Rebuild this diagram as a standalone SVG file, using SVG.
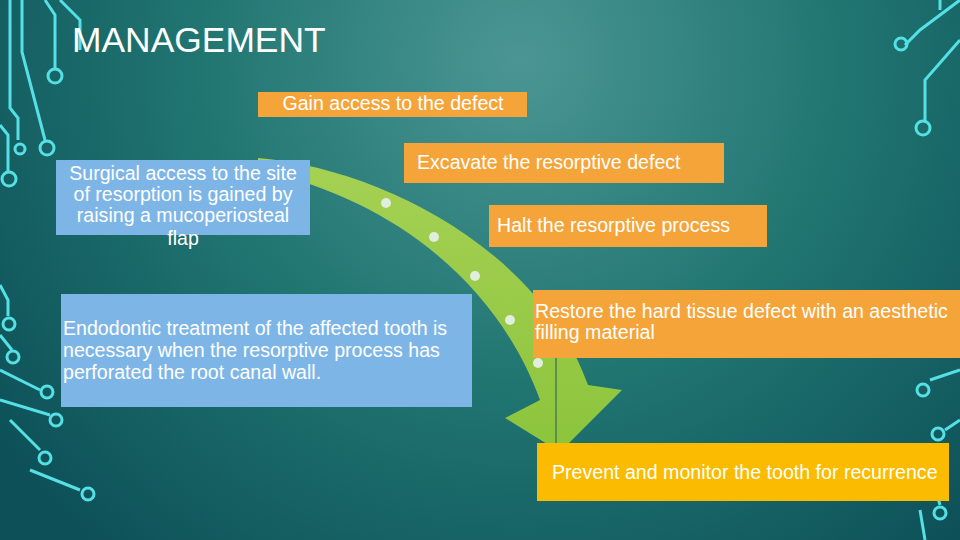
<svg xmlns="http://www.w3.org/2000/svg" width="960" height="540" viewBox="0 0 960 540">
<defs>
<radialGradient id="bg" cx="520" cy="60" r="650" gradientUnits="userSpaceOnUse">
<stop offset="0" stop-color="#4b9694"/><stop offset="0.5" stop-color="#207571"/><stop offset="1" stop-color="#0d5058"/>
</radialGradient>
<linearGradient id="arr" x1="0" y1="0" x2="0" y2="1"><stop offset="0" stop-color="#a6d154"/><stop offset="1" stop-color="#8cc43c"/></linearGradient>
<style>
.c{fill:none;stroke:#55e0e6;stroke-width:3}
.t{font-family:"Liberation Sans",Arial,sans-serif;fill:#fff;font-size:19.6px}
.o{fill:#f5a43a}.b{fill:#7db6e6}
.d{fill:#dfeedd}
</style>
</defs>
<rect width="960" height="540" fill="url(#bg)"/>
<g id="circuits">
<path class="c" d="M45 0 L55 15 L55 68"/><circle class="c" cx="55" cy="76" r="7"/>
<path class="c" d="M22 0 L22 52 L45 140"/><circle class="c" cx="47" cy="148" r="7"/>
<path class="c" d="M10 0 L10 108 L18 118 L18 140"/><circle class="c" cx="20" cy="149" r="5"/>
<path class="c" d="M0 125 L8 135 L8 171"/><circle class="c" cx="9" cy="179" r="7"/>
<path class="c" d="M0 285 L8 300 L8 316"/><circle class="c" cx="9" cy="324" r="6"/>
<path class="c" d="M0 335 L12 350"/><circle class="c" cx="13" cy="357" r="6"/>
<path class="c" d="M0 370 L40 390"/><circle class="c" cx="47" cy="392" r="6"/>
<path class="c" d="M0 400 L50 415"/><circle class="c" cx="56" cy="420" r="6"/>
<path class="c" d="M10 420 L40 450"/><circle class="c" cx="45" cy="458" r="6"/>
<path class="c" d="M30 470 L80 490"/><circle class="c" cx="88" cy="494" r="6"/>
<path class="c" d="M60 0 L80 20 L80 50"/>
<path class="c" d="M960 0 L920 30 L905 45"/><circle class="c" cx="901" cy="44" r="6"/>
<path class="c" d="M960 40 L925 80 L925 120"/><circle class="c" cx="923" cy="128" r="7"/>
<path class="c" d="M940 0 L940 10"/>
<path class="c" d="M960 370 L930 380"/><circle class="c" cx="923" cy="390" r="6"/>
<path class="c" d="M960 420 L945 430"/><circle class="c" cx="938" cy="434" r="6"/>
<path class="c" d="M930 470 L940 505"/><circle class="c" cx="940" cy="513" r="6"/>
<path class="c" d="M920 510 L925 540"/>
</g>
<text x="72" y="52" font-family="Liberation Sans,Arial,sans-serif" font-size="35.4" fill="#fff">MANAGEMENT</text>
<g id="connectors">
<path fill="url(#arr)" d="M258 158 C380 168 540 250 588 385 L622 390 L560 452 L505 418 L540 400 C500 290 400 200 258 170 Z"/>
<path d="M556 330 L556 445" stroke="#3d6a55" stroke-width="1.2"/>
<circle class="d" cx="386" cy="203" r="5"/><circle class="d" cx="434" cy="237" r="5"/>
<circle class="d" cx="475" cy="276" r="5"/><circle class="d" cx="510" cy="320" r="5"/>
<circle class="d" cx="538" cy="363" r="5"/>
</g>
<g id="gain"><rect class="o" x="258" y="92" width="269" height="25"/><text class="t" x="393" y="110" font-size="18.8" text-anchor="middle">Gain access to the defect</text></g>
<g id="surgical"><rect class="b" x="56" y="160" width="254" height="75"/>
<text class="t" text-anchor="middle"><tspan x="183" y="180">Surgical access to the site</tspan><tspan x="183" y="201">of resorption is gained by</tspan><tspan x="183" y="222">raising a mucoperiosteal</tspan><tspan x="183" y="245">flap</tspan></text></g>
<g id="excavate"><rect class="o" x="404" y="143" width="320" height="40"/><text class="t" x="417" y="169">Excavate the resorptive defect</text></g>
<g id="halt"><rect class="o" x="489" y="205" width="278" height="42"/><text class="t" x="497" y="232">Halt the resorptive process</text></g>
<g id="restore"><rect class="o" x="533" y="290" width="427" height="68"/><text class="t"><tspan x="535" y="318">Restore the hard tissue defect with an aesthetic</tspan><tspan x="535" y="339">filling material</tspan></text></g>
<g id="endo"><rect class="b" x="61" y="294" width="411" height="113"/><text class="t"><tspan x="63" y="335">Endodontic treatment of the affected tooth is</tspan><tspan x="63" y="357">necessary when the resorptive process has</tspan><tspan x="63" y="379">perforated the root canal wall.</tspan></text></g>
<g id="prevent"><rect x="537" y="443" width="412" height="58" fill="#fbbb00"/><text class="t" x="552" y="479">Prevent and monitor the tooth for recurrence</text></g>
</svg>
